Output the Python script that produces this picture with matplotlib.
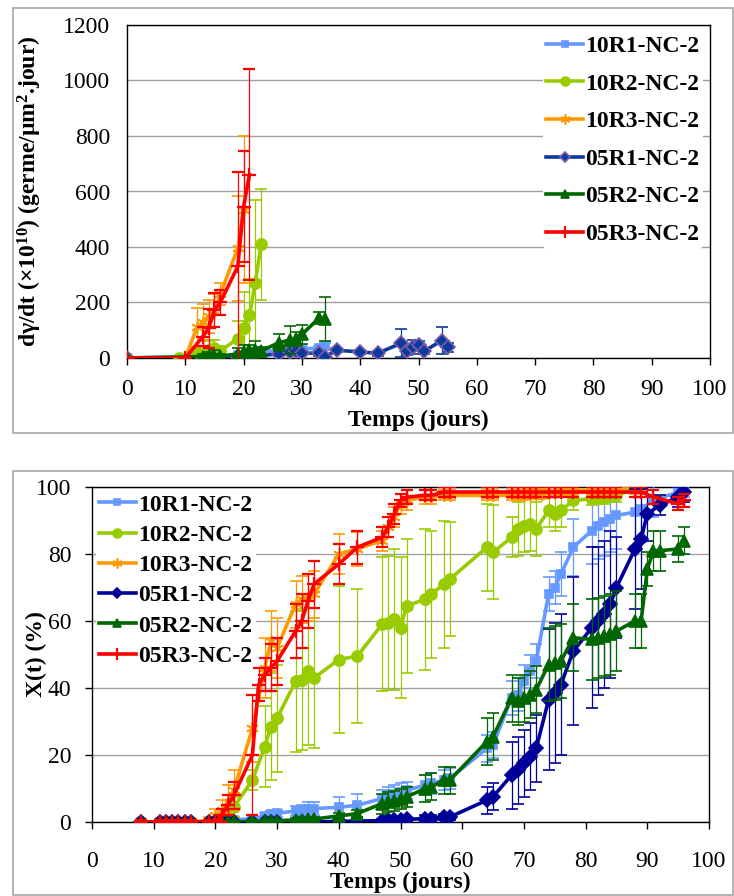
import matplotlib
matplotlib.use("Agg")
import matplotlib.pyplot as plt
from matplotlib.patches import Rectangle

plt.rcParams['font.family'] = ['Liberation Serif', 'DejaVu Serif']
plt.rcParams['mathtext.default'] = 'regular'

names = ['10R1-NC-2', '10R2-NC-2', '10R3-NC-2', '05R1-NC-2', '05R2-NC-2', '05R3-NC-2']
colors_top = ['#6699ff', '#99cc00', '#ff9900', '#0b3a9c', '#006600', '#ff0000']
colors_bot = ['#6699ff', '#99cc00', '#ff9900', '#000099', '#006600', '#ff0000']
markers = ['s', 'o', (6, 2, 0), 'D', '^', '+']
msizes = [6, 8, 9, 7, 8, 10]

# ---- top chart: dγ/dt ----
t_top_10R1 = [0, 19, 20, 21, 22, 23, 26, 28, 29, 30, 33, 34]
v_top_10R1 = [0, 10, 12, 18, 20, 22, 28, 30, 32, 33, 35, 45]
e_top_10R1 = [0, 5, 5, 6, 6, 6, 8, 8, 8, 8, 10, 10]

t_top_10R2 = [0, 9, 12, 13, 14, 15, 16, 19, 20, 21, 22, 23]
v_top_10R2 = [0, 0, 20, 25, 30, 35, 25, 70, 107, 155, 270, 410]
e_top_10R2 = [0, 0, 10, 20, 30, 30, 20, 65, 130, 130, 300, 200]

t_top_10R3 = [0, 10, 12, 13, 14, 15, 16, 19, 20]
v_top_10R3 = [0, 0, 110, 130, 150, 170, 230, 395, 535]
e_top_10R3 = [0, 0, 70, 65, 60, 60, 40, 190, 265]

t_top_05R1 = [0, 19, 20, 21, 26, 28, 29, 30, 33, 34, 36, 40, 43, 47, 48, 49, 50, 51, 54, 55]
v_top_05R1 = [0, 2, 5, 5, 15, 20, 25, 18, 17, 5, 28, 22, 17, 53, 27, 40, 48, 25, 63, 38]
e_top_05R1 = [0, 3, 5, 5, 8, 8, 8, 8, 8, 5, 8, 8, 8, 50, 15, 24, 15, 10, 48, 15]

t_top_05R2 = [0, 13, 14, 15, 16, 19, 20, 21, 22, 23, 26, 28, 29, 30, 33, 34]
v_top_05R2 = [0, 5, 8, 8, 6, 15, 22, 28, 30, 25, 55, 65, 70, 85, 145, 140]
e_top_05R2 = [0, 10, 15, 20, 10, 20, 25, 20, 30, 15, 30, 50, 25, 35, 20, 80]

t_top_05R3 = [0, 10, 13, 14, 15, 16, 19, 20, 21]
v_top_05R3 = [0, 0, 77, 107, 173, 200, 330, 545, 660]
e_top_05R3 = [0, 0, 35, 70, 60, 45, 340, 200, 380]

# ---- bottom chart: X(t) ----
t_bot_10R1 = [8, 11, 12, 13, 14, 15, 16, 19, 20, 21, 22, 23, 26, 28, 29, 30, 33, 34, 35, 36, 40, 43,
              47, 48, 49, 50, 51, 54, 55, 57, 58, 64, 65, 68, 69, 70, 71, 72, 74, 75, 76, 78, 81, 82,
              83, 84, 85, 88, 89, 91, 95, 96]
x_bot_10R1 = [0, 0, 0, 0, 0, 0, 0, 0, 0, 0.3, 0.5, 0.6, 1, 1.8, 2.3, 2.6, 3.3, 3.6, 3.9, 4, 4.4, 5,
              7, 8, 8.5, 9, 9.5, 11, 11.5, 12.5, 13, 22, 23, 37, 38, 42, 45, 48, 68, 70, 74, 82, 87, 88.5,
              89.5, 90.5, 91.5, 92.5, 93.5, 96, 98.5, 99]
e_bot_10R1 = [0.5, 0.5, 0.5, 0.5, 0.5, 0.5, 0.5, 0.5, 0.5, 0.5, 0.5, 0.5, 1, 1, 1, 1, 1.5, 1.5, 2, 2, 3, 3.5,
              2.5, 2.5, 2.5, 2.5, 2.5, 3, 3, 3, 3, 4, 4, 5, 5, 5, 5, 5, 5, 5, 6.5, 8.5, 10, 10,
              10, 10, 10, 10, 10, 5, 2, 2]

t_bot_10R2 = [8, 11, 12, 13, 14, 15, 16, 19, 20, 21, 22, 23, 26, 28, 29, 30, 33, 34, 35, 36, 40, 43,
              47, 48, 49, 50, 51, 54, 55, 57, 58, 64, 65, 68, 69, 70, 71, 72, 74, 75, 76, 78, 81, 82,
              83, 84, 85, 89]
x_bot_10R2 = [0, 0, 0, 0, 0, 0, 0, 0, 0, 0.5, 2, 4.5, 12.5, 22.5, 28.5, 31, 42, 42.5, 45, 43, 48.5, 49.5,
              59, 59.5, 60.5, 58, 64.5, 66.5, 68, 71, 72.5, 82, 80.5, 85, 87.5, 88.5, 89, 87.5, 93, 92, 93, 96, 96.5, 97,
              97, 97.5, 97.5, 100]
e_bot_10R2 = [0, 0, 0, 0, 0, 0, 0, 0, 0, 1, 2, 3, 3, 12, 16, 16, 21, 21, 22, 21, 22, 20,
              20, 20, 21, 21, 20, 21, 19, 19, 17, 13, 14, 6, 8, 8, 8, 8, 5, 5, 5, 3, 2, 2,
              2, 2, 2, 1]

t_bot_10R3 = [8, 11, 12, 13, 14, 15, 16, 19, 20, 21, 22, 23, 26, 28, 29, 30, 33, 34, 35, 36, 40, 43,
              47, 48, 49, 50, 51, 54, 55, 57, 58, 64, 65, 68, 69, 70, 71, 72, 73, 74, 75, 76, 77, 78,
              81, 82, 83, 84, 85, 88, 89]
x_bot_10R3 = [0, 0, 0, 0, 0, 0, 0, 0.5, 2, 3.5, 6, 9.5, 28, 46, 54, 52, 65, 66.5, 67, 68, 80, 81.5,
              84, 88, 91, 95, 96, 97, 97, 97.5, 97.5, 97.5, 97.5, 97.5, 97.5, 97.5, 98, 98, 98, 98.5, 98.5, 99, 99, 99,
              99, 99, 99.5, 99.5, 99.5, 99.5, 100]
e_bot_10R3 = [1, 1, 1, 1, 1, 1, 1, 1, 2, 3, 5, 6, 10, 9, 9, 9, 7, 7, 7, 7, 6, 5,
              3, 3, 3, 3, 3, 2, 2, 1.5, 1.5, 1.5, 1.5, 1.5, 1.5, 1.5, 1.5, 1.5, 1.5, 1.5, 1.5, 1.5, 1.5, 1.5,
              1.5, 1.5, 1.5, 1.5, 1.5, 1.5, 1.5]

t_bot_05R1 = [8, 11, 12, 13, 14, 15, 16, 19, 20, 21, 22, 23, 26, 28, 29, 30, 33, 34, 35, 36, 40, 43,
              47, 48, 49, 50, 51, 54, 55, 57, 58, 64, 65, 68, 69, 70, 71, 72, 74, 75, 76, 78, 81, 82,
              83, 84, 85, 88, 89, 90, 92, 95, 96]
x_bot_05R1 = [0, 0, 0, 0, 0, 0, 0, 0, 0, 0, 0, 0, 0, 0, 0, 0, 0, 0, 0, 0, 0.2, 0.3,
              0.4, 0.5, 0.6, 0.7, 0.8, 1, 1, 1.5, 1.5, 6.5, 7.5, 14, 15.5, 17.5, 19.5, 22, 36.5, 38.5, 41, 51, 58, 60,
              62, 65, 70, 81.5, 84.5, 92, 94.5, 97, 98.5]
e_bot_05R1 = [0, 0, 0, 0, 0, 0, 0, 0, 0, 0, 0, 0, 0, 0, 0, 0, 0, 0, 0, 0, 0.3, 0.3,
              0.5, 0.5, 0.5, 0.5, 0.5, 1, 1, 1, 1, 4, 4, 10, 10, 10, 10, 10, 21, 21, 21, 22, 24, 22,
              22, 22, 15, 18, 15, 8, 3, 3, 3]

t_bot_05R2 = [8, 11, 12, 13, 14, 15, 16, 19, 20, 21, 22, 23, 26, 28, 29, 30, 33, 34, 35, 36, 40, 43,
              47, 48, 49, 50, 51, 54, 55, 57, 58, 64, 65, 68, 69, 70, 71, 72, 74, 75, 76, 78, 81, 82,
              83, 84, 85, 88, 89, 90, 91, 92, 95, 96]
x_bot_05R2 = [0, 0, 0, 0, 0, 0, 0, 0, 0, 0, 0, 0, 0.2, 0.3, 0.3, 0.4, 0.6, 0.7, 0.8, 0.9, 1.8, 2.5,
              5.5, 6, 6.2, 7, 7.5, 10, 10.5, 12.5, 12.5, 24, 25.5, 37, 36, 37, 38, 39.5, 47, 47.5, 48, 55, 54.5, 55,
              55.5, 56, 57, 60, 60, 75.5, 81, 81, 81.5, 84]
e_bot_05R2 = [0, 0, 0, 0, 0, 0, 0, 0, 0, 0, 0, 0, 0.3, 0.3, 0.3, 0.3, 0.5, 0.5, 0.5, 0.5, 1, 1,
              3, 3, 3, 3, 3, 4, 4, 4, 4, 7, 7, 7, 7, 7, 7, 7, 11, 11, 11, 10, 12, 12,
              12, 12, 12, 8, 8, 5, 6, 6, 4, 4]

t_bot_05R3 = [8, 11, 12, 13, 14, 15, 16, 19, 20, 21, 22, 23, 26, 27, 28, 29, 30, 33, 34, 35, 36, 40,
              43, 47, 48, 49, 50, 51, 54, 55, 57, 58, 64, 65, 68, 69, 70, 71, 72, 74, 75, 76, 78, 81,
              82, 83, 84, 85, 88, 89, 91, 95, 96]
x_bot_05R3 = [0, 0, 0, 0, 0, 0, 0, 0, 0, 2, 5, 8, 20, 41, 44, 46, 48, 57, 60, 66, 71, 77,
              82, 85, 88, 92, 96, 97, 97.5, 97.5, 98.5, 98.5, 98.5, 98.5, 98.5, 98.5, 98.5, 98.5, 98.5, 98.5, 98.5, 98.5, 98.5, 98.5,
              98.5, 98.5, 98.5, 98.5, 98.5, 98.5, 97, 95, 96]
e_bot_05R3 = [0.5, 0.5, 0.5, 0.5, 0.5, 0.5, 0.5, 0.5, 0.5, 2, 3, 4, 18, 5, 5, 7, 7, 8, 8, 8, 7, 6,
              5, 3, 3, 3, 2, 2, 1.5, 1.5, 1.5, 1.5, 1.5, 1.5, 1.5, 1.5, 1.5, 1.5, 1.5, 1.5, 1.5, 1.5, 1.5, 1.5,
              1.5, 1.5, 1.5, 1.5, 1.5, 1.5, 2, 2, 2]

top_series = [(t_top_10R1, v_top_10R1, e_top_10R1), (t_top_10R2, v_top_10R2, e_top_10R2),
              (t_top_10R3, v_top_10R3, e_top_10R3), (t_top_05R1, v_top_05R1, e_top_05R1),
              (t_top_05R2, v_top_05R2, e_top_05R2), (t_top_05R3, v_top_05R3, e_top_05R3)]
bot_series = [(t_bot_10R1, x_bot_10R1, e_bot_10R1), (t_bot_10R2, x_bot_10R2, e_bot_10R2),
              (t_bot_10R3, x_bot_10R3, e_bot_10R3), (t_bot_05R1, x_bot_05R1, e_bot_05R1),
              (t_bot_05R2, x_bot_05R2, e_bot_05R2), (t_bot_05R3, x_bot_05R3, e_bot_05R3)]

W, H = 734, 896
fig = plt.figure(figsize=(W / 100, H / 100), dpi=100)

# outer chart frames
for (x0, y0, x1, y1) in [(13, 8, 733, 433), (13, 471, 733, 895)]:
    fig.patches.append(Rectangle((x0 / W, 1 - y1 / H), (x1 - x0) / W, (y1 - y0) / H,
                                 transform=fig.transFigure, fill=False,
                                 edgecolor='#a6a6a6', linewidth=1.2))


def draw(ax, series, colors, medge, xpad):
    handles = []
    for i, (t, v, e) in enumerate(series):
        c = ax.errorbar(t, v, yerr=e, color=colors[i], linewidth=2.6, marker=markers[i],
                        markersize=msizes[i], markeredgecolor=medge[i],
                        markeredgewidth=1.2 if i != 5 else 1.6,
                        elinewidth=0.9, capsize=4, capthick=0.9, ecolor=colors[i],
                        zorder=3 + i)
        handles.append(c.lines[0])
    ax.set_xlim(0, 100)
    ax.set_xticks(range(0, 101, 10))
    ax.yaxis.grid(True, color='#a0a0a0', linewidth=1)
    ax.set_axisbelow(True)
    for s in ax.spines.values():
        s.set_color('black')
        s.set_linewidth(1)
    ax.tick_params(labelsize=17, length=5, width=1)
    ax.tick_params(axis='x', pad=xpad)
    ax.tick_params(axis='y', pad=10)
    return handles


# top chart
ax1 = fig.add_axes([127 / W, 1 - 358 / H, 583 / W, 333 / H])
edge_top = list(colors_top)
edge_top[3] = '#7a5ca8'
h1 = draw(ax1, top_series, colors_top, edge_top, 10)
ax1.set_ylim(0, 1200)
ax1.set_yticks(range(0, 1201, 200))
ax1.tick_params(axis='y', length=0, pad=12)
ax1.set_xlabel('Temps (jours)', fontsize=17, fontweight='bold', labelpad=7)
ax1.set_ylabel('dγ/dt (×10$^{10}$) (germe/µm$^{2}$.jour)', fontsize=17,
               fontweight='bold', labelpad=14)
leg1 = ax1.legend(h1, names, loc='upper right', bbox_to_anchor=(1.0, 1.0), frameon=True,
                  prop={'size': 17, 'weight': 'bold'}, handlelength=1.55, handletextpad=0.1,
                  labelspacing=0.68, borderpad=0.15, borderaxespad=0.3, markerscale=0.8)
leg1.get_frame().set_edgecolor('none')
leg1.get_frame().set_alpha(1)

# bottom chart
ax2 = fig.add_axes([92 / W, 1 - 822 / H, 617 / W, 335 / H])
h2 = draw(ax2, bot_series, colors_bot, colors_bot, 16)
ax2.set_ylim(0, 100)
ax2.set_yticks(range(0, 101, 20))
ax2.set_xlabel('Temps (jours)', fontsize=17, fontweight='bold', labelpad=0)
ax2.set_ylabel('X(t) (%)', fontsize=17, fontweight='bold', labelpad=-8)
leg2 = ax2.legend(h2, names, loc='upper left', bbox_to_anchor=(0.0, 1.0), frameon=True,
                  prop={'size': 17, 'weight': 'bold'}, handlelength=1.55, handletextpad=0.1,
                  labelspacing=0.37, borderpad=0.15, borderaxespad=0.15, markerscale=0.8)
leg2.get_frame().set_edgecolor('none')
leg2.get_frame().set_alpha(1)

fig.savefig('out.png', dpi=100)
